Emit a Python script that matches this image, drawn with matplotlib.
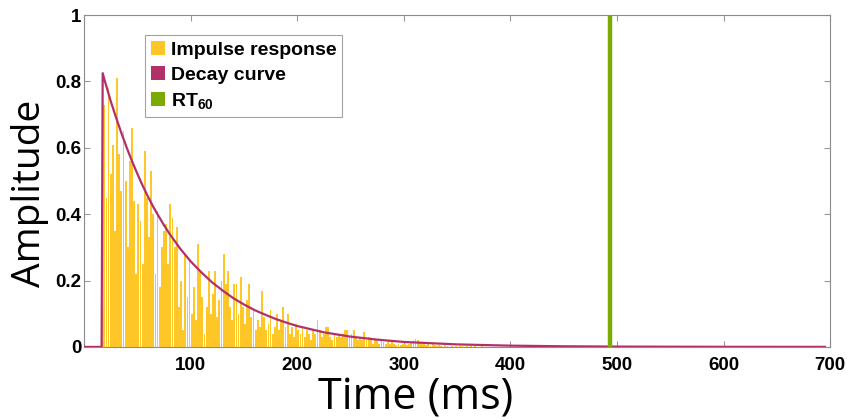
"""Room impulse response with its decay envelope and RT60 marker."""

import matplotlib

matplotlib.use("Agg")
import matplotlib.pyplot as plt
import numpy as np
from matplotlib.patches import Patch

# impulse response: peak height of each 2 ms slot, first slot at 17 ms
IR_START_MS = 17
IR_STEP_MS = 2
ir_heights = [
    0.12, 0.73, 0.45, 0.78, 0.52, 0.61, 0.35, 0.81, 0.58, 0.47,
    0.65, 0.50, 0.30, 0.56, 0.66, 0.44, 0.22, 0.43, 0.38, 0.25,
    0.59, 0.45, 0.33, 0.53, 0.40, 0.22, 0.41, 0.18, 0.30, 0.35,
    0.37, 0.25, 0.43, 0.39, 0.30, 0.36, 0.12, 0.20, 0.05, 0.28,
    0.15, 0.26, 0.10, 0.18, 0.08, 0.31, 0.23, 0.15, 0.04, 0.12,
    0.23, 0.10, 0.16, 0.23, 0.09, 0.14, 0.20, 0.28, 0.19, 0.23,
    0.12, 0.08, 0.19, 0.19, 0.10, 0.21, 0.12, 0.07, 0.14, 0.19,
    0.09, 0.11, 0.05, 0.08, 0.06, 0.17, 0.09, 0.05, 0.07, 0.11,
    0.04, 0.06, 0.10, 0.05, 0.08, 0.12, 0.06, 0.10, 0.04, 0.06,
    0.03, 0.07, 0.05, 0.04, 0.06, 0.03, 0.05, 0.04, 0.02, 0.05,
    0.04, 0.08, 0.05, 0.03, 0.04, 0.06, 0.06, 0.03, 0.02, 0.04,
    0.03, 0.04, 0.03, 0.04, 0.05, 0.05, 0.03, 0.04, 0.05, 0.03,
    0.02, 0.03, 0.02, 0.045, 0.02, 0.03, 0.02, 0.01, 0.025, 0.02,
    0.01, 0.02, 0.015, 0.01, 0.02, 0.01, 0.015, 0.01, 0.005, 0.01,
    0.005, 0.008, 0.01, 0.005, 0.01, 0.015, 0.02, 0.024, 0.02, 0.015,
    0.01, 0.012, 0.006, 0.01, 0.004, 0.008, 0.005, 0.003, 0.006, 0.004,
    0.0, 0.005, 0.003, 0.0, 0.004, 0.0, 0.003, 0.0, 0.002, 0.004,
    0.0, 0.002, 0.0, 0.003, 0.0, 0.002, 0.0, 0.0, 0.002, 0.0,
]

# decay envelope
decay_t = [0, 16.5, 17.5, 20, 25, 30, 35, 40, 45, 50, 55, 60, 65, 70, 75, 80,
           90, 100, 110, 120, 130, 140, 150, 160, 170, 180, 190, 200, 225,
           250, 275, 300, 350, 400, 450, 500, 600, 695]
decay_amp = [0.0, 0.0, 0.825, 0.796, 0.741, 0.692, 0.645, 0.601, 0.560,
             0.522, 0.486, 0.453, 0.422, 0.394, 0.367, 0.342, 0.297, 0.258,
             0.225, 0.195, 0.170, 0.147, 0.128, 0.111, 0.097, 0.084, 0.073,
             0.063, 0.044, 0.031, 0.022, 0.015, 0.0076, 0.0038, 0.0019,
             0.001, 0.0003, 0.0001]

rt60_ms = 493

x_ticks = [0, 100, 200, 300, 400, 500, 600, 700]
x_tick_labels = ["", "100", "200", "300", "400", "500", "600", "700"]
y_ticks = [0, 0.2, 0.4, 0.6, 0.8, 1]
y_tick_labels = ["0", "0.2", "0.4", "0.6", "0.8", "1"]

IR_COLOR = "#FFC627"
DECAY_COLOR = "#B1306A"
RT_COLOR = "#7BAA00"

plt.rcParams["mathtext.fontset"] = "custom"
plt.rcParams["mathtext.rm"] = "Liberation Sans:bold"
plt.rcParams["mathtext.default"] = "rm"

fig = plt.figure(figsize=(8.47, 4.2), dpi=100)
ax = fig.add_axes([0.0992, 0.174, 0.881, 0.79])

ir_t = IR_START_MS + IR_STEP_MS * np.arange(len(ir_heights))
ax.bar(ir_t, ir_heights, width=1.7, color=IR_COLOR, linewidth=0, zorder=2)
ax.plot(decay_t, decay_amp, color=DECAY_COLOR, linewidth=1.6, zorder=3)
ax.axvline(rt60_ms, color=RT_COLOR, linewidth=3.2, zorder=4)

ax.set_xlim(0, 700)
ax.set_ylim(0, 1)
ax.set_xticks(x_ticks)
ax.set_xticklabels(x_tick_labels)
ax.set_yticks(y_ticks)
ax.set_yticklabels(y_tick_labels)
ax.tick_params(direction="in", length=4, color="#999999", top=True,
               right=True)
ax.tick_params(axis="x", pad=7)
ax.tick_params(axis="y", pad=2)
for label in ax.get_xticklabels() + ax.get_yticklabels():
    label.set_family("Liberation Sans")
    label.set_fontweight("bold")
    label.set_fontsize(13.5)
for spine in ax.spines.values():
    spine.set_color("#8c8c8c")
    spine.set_linewidth(0.8)

ax.set_xlabel("Time (ms)", fontsize=31, family="Open Sans")
ax.xaxis.set_label_coords(0.445, -0.088)
ax.set_ylabel("Amplitude", fontsize=28, family="Open Sans")
ax.yaxis.set_label_coords(-0.047, 0.464)

handles = [
    Patch(facecolor=IR_COLOR, label="Impulse response"),
    Patch(facecolor=DECAY_COLOR, label="Decay curve"),
    Patch(facecolor=RT_COLOR, label="RT$_{60}$"),
]
leg = ax.legend(handles=handles, loc="upper left",
                bbox_to_anchor=(0.082, 0.94), frameon=True, fancybox=False,
                prop={"family": "Liberation Sans", "weight": "bold",
                      "size": 14},
                handlelength=0.72, handleheight=0.72, handletextpad=0.3,
                labelspacing=0.38, borderpad=0.3, borderaxespad=0)
leg.get_frame().set_edgecolor("#8c8c8c")
leg.get_frame().set_linewidth(0.8)

fig.savefig("out.png", dpi=100)
